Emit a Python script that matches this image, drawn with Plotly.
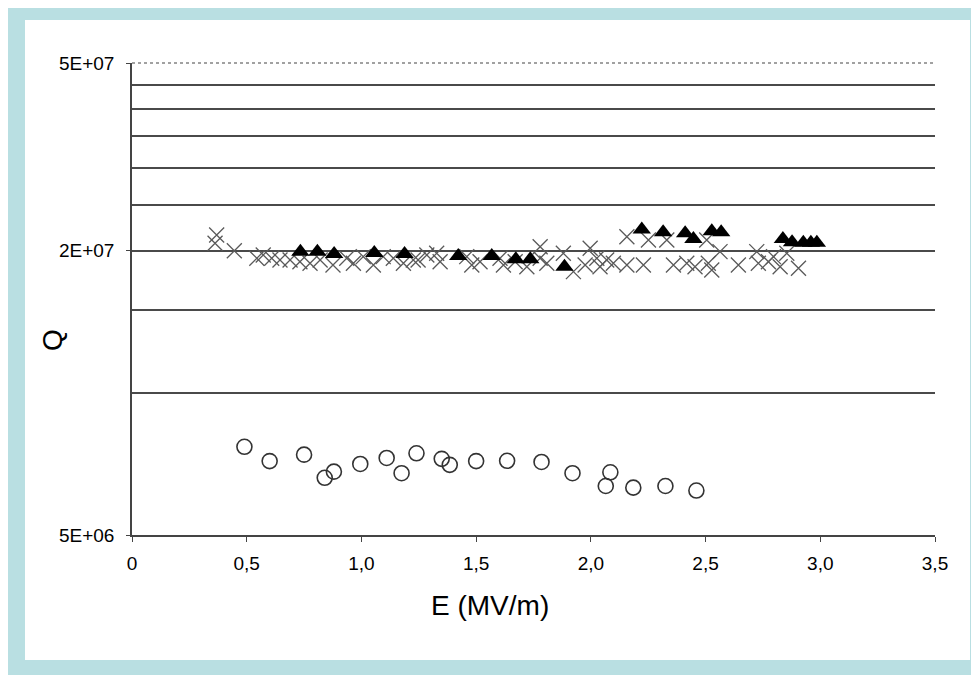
import plotly.graph_objects as go
import math

# ---- data ----
circ_E = [0.49, 0.60, 0.75, 0.84, 0.88, 0.995, 1.11, 1.175, 1.24, 1.35, 1.385, 1.50,
          1.635, 1.785, 1.92, 2.065, 2.085, 2.185, 2.325, 2.46]
circ_Q = [7.69e6, 7.17e6, 7.40e6, 6.61e6, 6.81e6, 7.07e6, 7.28e6, 6.76e6, 7.45e6, 7.25e6,
          7.04e6, 7.17e6, 7.18e6, 7.14e6, 6.76e6, 6.35e6, 6.79e6, 6.30e6, 6.35e6, 6.21e6]

tri_E = [0.734, 0.808, 0.881, 1.056, 1.188, 1.422, 1.568, 1.673, 1.736, 1.885, 2.222,
         2.315, 2.411, 2.447, 2.527, 2.568, 2.837, 2.877, 2.926, 2.959, 2.985]
tri_Q = [1.99e7, 1.99e7, 1.97e7, 1.98e7, 1.97e7, 1.95e7, 1.95e7, 1.92e7, 1.92e7, 1.85e7,
         2.22e7, 2.19e7, 2.18e7, 2.12e7, 2.20e7, 2.19e7, 2.12e7, 2.085e7, 2.08e7, 2.08e7, 2.08e7]

cross_E = [0.362, 0.369, 0.446, 0.544, 0.572, 0.609, 0.645, 0.689, 0.732, 0.776, 0.820,
           0.876, 0.936, 0.965, 1.008, 1.052, 1.095, 1.139, 1.183, 1.226, 1.247, 1.285,
           1.328, 1.343, 1.459, 1.481, 1.517, 1.604, 1.619, 1.670, 1.721, 1.779, 1.779,
           1.808, 1.880, 1.924, 1.975, 1.997, 2.026, 2.040, 2.069, 2.098, 2.157, 2.157,
           2.229, 2.251, 2.331, 2.360, 2.418, 2.454, 2.505, 2.512, 2.527, 2.563, 2.643,
           2.723, 2.730, 2.774, 2.796, 2.825, 2.854, 2.905]
cross_Q = [2.075e7, 2.161e7, 2.0e7, 1.929e7, 1.960e7, 1.929e7, 1.913e7, 1.913e7, 1.897e7,
           1.882e7, 1.913e7, 1.866e7, 1.929e7, 1.882e7, 1.944e7, 1.866e7, 1.944e7, 1.929e7,
           1.882e7, 1.913e7, 1.913e7, 1.960e7, 1.976e7, 1.897e7, 1.944e7, 1.866e7, 1.897e7,
           1.929e7, 1.866e7, 1.897e7, 1.851e7, 2.04e7, 1.929e7, 1.882e7, 1.976e7, 1.807e7,
           1.866e7, 2.025e7, 1.929e7, 1.851e7, 1.913e7, 1.882e7, 2.143e7, 1.866e7, 1.866e7,
           2.109e7, 2.109e7, 1.866e7, 1.882e7, 1.851e7, 2.109e7, 1.882e7, 1.822e7, 1.992e7,
           1.866e7, 1.992e7, 1.882e7, 1.897e7, 1.944e7, 1.851e7, 1.976e7, 1.837e7]

x_ticks = [0, 0.5, 1.0, 1.5, 2.0, 2.5, 3.0, 3.5]
x_ticktext = ["0", "0,5", "1,0", "1,5", "2,0", "2,5", "3,0", "3,5"]
y_ticks = [5e6, 2e7, 5e7]
y_ticktext = ["5E+06", "2E+07", "5E+07"]
y_grid = [1e7, 1.5e7, 2e7, 2.5e7, 3e7, 3.5e7, 4e7, 4.5e7]

FONT = "Liberation Sans, Arial, sans-serif"

fig = go.Figure()
fig.add_trace(go.Scatter(x=cross_E, y=cross_Q, mode="markers",
                         marker=dict(symbol="x-thin-open", size=15, color="#5a5a5a",
                                     line=dict(color="#5a5a5a", width=1.3))))
fig.add_trace(go.Scatter(x=tri_E, y=tri_Q, mode="markers",
                         marker=dict(symbol="triangle-up", size=16, color="black",
                                     line=dict(width=0))))
fig.add_trace(go.Scatter(x=circ_E, y=circ_Q, mode="markers",
                         marker=dict(symbol="circle-open", size=15, color="#333333",
                                     line=dict(color="#333333", width=1.6))))

W, H = 979, 675
OFF = 8  # page body margin
L, T = 132 - OFF, 63 - OFF
pw, ph = 803, 472
R, B = W - L - pw, H - T - ph

shapes = [
    dict(type="rect", xref="paper", yref="paper",
         x0=(25 - OFF - L) / pw, x1=(970 - OFF - L) / pw,
         y0=(T + ph - (660 - OFF)) / ph, y1=(T + ph - (20 - OFF)) / ph,
         fillcolor="white", line=dict(width=0), layer="below"),
    dict(type="line", xref="paper", yref="paper", x0=0, x1=1, y0=1, y1=1,
         line=dict(color="white", width=2)),
    dict(type="line", xref="paper", yref="paper", x0=0, x1=1, y0=1, y1=1,
         line=dict(color="#444444", width=1.2, dash="dot")),
]

fig.update_layout(
    width=W, height=H,
    margin=dict(l=L, r=R, t=T, b=B),
    paper_bgcolor="#b9dfe2",
    plot_bgcolor="white",
    showlegend=False,
    font=dict(family=FONT, color="black", size=18),
    shapes=shapes,
    xaxis=dict(range=[0, 3.5], tickvals=x_ticks, ticktext=x_ticktext,
               showgrid=False, zeroline=False, showline=True,
               linecolor="#444444", linewidth=1.5, ticks="outside", ticklen=5,
               tickcolor="#444444", ticklabelstandoff=5,
               tickfont=dict(size=19, family=FONT)),
    yaxis=dict(type="log", range=[math.log10(5e6), math.log10(5e7)],
               tickvals=y_ticks, ticktext=y_ticktext, showgrid=False,
               zeroline=False, showline=True, linecolor="#444444", linewidth=1.5,
               ticks="outside", ticklen=4, tickcolor="#444444",
               ticklabelstandoff=8,
               tickfont=dict(size=19, family=FONT),
               minor=dict(tickvals=y_grid, showgrid=True, gridcolor="#4a4a4a",
                          gridwidth=1.8, ticks="")),
    annotations=[
        dict(text="E (MV/m)", x=(490 - OFF - L) / pw, y=(T + ph - (605 - OFF)) / ph,
             xref="paper", yref="paper",
             showarrow=False, font=dict(size=28, family=FONT),
             xanchor="center", yanchor="middle"),
        dict(text="Q", x=(52 - OFF - L) / pw, y=(T + ph - (340 - OFF)) / ph,
             xref="paper", yref="paper",
             showarrow=False, textangle=-90, font=dict(size=28, family=FONT),
             xanchor="center", yanchor="middle"),
    ],
)

fig.write_html("out.html")
